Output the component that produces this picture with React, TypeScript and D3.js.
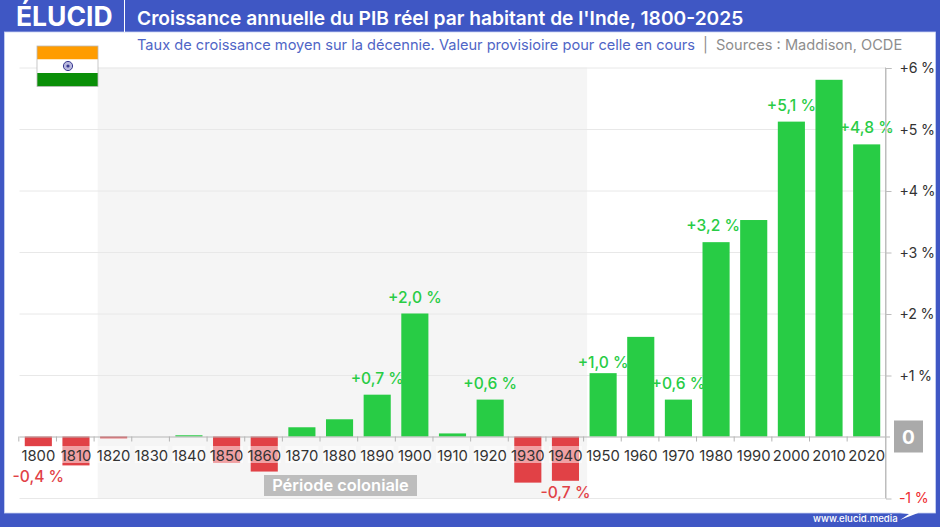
import React, { useEffect, useRef } from 'react';
import * as d3 from 'd3';

const years = [1800, 1810, 1820, 1830, 1840, 1850, 1860, 1870, 1880, 1890, 1900, 1910, 1920, 1930, 1940, 1950, 1960, 1970, 1980, 1990, 2000, 2010, 2020];
const growth = [-0.16, -0.47, -0.03, 0, 0.02, -0.43, -0.57, 0.15, 0.28, 0.68, 2.0, 0.05, 0.6, -0.75, -0.72, 1.03, 1.62, 0.6, 3.16, 3.52, 5.12, 5.8, 4.75];
const labelYears = [1800, 1890, 1900, 1920, 1940, 1950, 1970, 1980, 2000, 2020];
const labelTexts = ['-0,4 %', '+0,7 %', '+2,0 %', '+0,6 %', '-0,7 %', '+1,0 %', '+0,6 %', '+3,2 %', '+5,1 %', '+4,8 %'];
const yTicks = [6, 5, 4, 3, 2, 1];

const FONT = 'Inter, Lato, sans-serif';
const BLUE = '#3f57c4';
const GREEN = '#28cc45';
const RED = '#e14146';

const App: React.FC = () => {
  const svgRef = useRef<SVGSVGElement>(null);

  useEffect(() => {
    if (!svgRef.current) return;
    const svg = d3.select(svgRef.current);
    svg.selectAll('*').remove();
    svg.style('font-family', FONT);

    const x = d3.scaleBand<number>().domain(years).range([19.5, 885.5]).paddingInner(0.28).paddingOuter(0.14);
    const y = d3.scaleLinear().domain([-1, 6]).range([498, 67.5]);
    const zero = y(0);

    // frame
    svg.append('rect').attr('width', 940).attr('height', 527).attr('fill', BLUE);
    svg.append('rect').attr('x', 4.5).attr('y', 32).attr('width', 931).attr('height', 481)
      .attr('fill', '#fff').attr('stroke', '#c9d3f2').attr('stroke-width', 0.8);
    svg.append('line').attr('x1', 124.5).attr('x2', 124.5).attr('y1', 0).attr('y2', 32).attr('stroke', '#fff');
    svg.append('text').attr('x', 16).attr('y', 26).attr('fill', '#fff')
      .attr('font-size', 26.5).attr('font-weight', 700).text('ÉLUCID');
    svg.append('text').attr('x', 137).attr('y', 25).attr('fill', '#fff')
      .attr('font-size', 19.2).attr('font-weight', 600).text("Croissance annuelle du PIB réel par habitant de l'Inde, 1800-2025");

    const sub = svg.append('text').attr('x', 137).attr('y', 50).attr('font-size', 14.6);
    sub.append('tspan').attr('fill', '#4f65c6').text('Taux de croissance moyen sur la décennie. Valeur provisioire pour celle en cours');
    sub.append('tspan').attr('fill', '#8d8d8d').attr('dx', 8).text('|');
    sub.append('tspan').attr('fill', '#8d8d8d').attr('dx', 8).text('Sources : Maddison, OCDE');

    // colonial period background
    svg.append('rect').attr('x', x(1820)! - 2.4).attr('y', y(6)).attr('width', x(1950)! - x(1820)!)
      .attr('height', y(-1) - y(6)).attr('fill', '#f5f5f5');

    // grid
    svg.append('g').selectAll('line').data([...yTicks, -1]).join('line')
      .attr('x1', 19.5).attr('x2', 885.5)
      .attr('y1', d => y(d) + 0.5).attr('y2', d => y(d) + 0.5)
      .attr('stroke', '#e8e8e8');

    // bars
    svg.append('g').selectAll('rect').data(years).join('rect')
      .attr('x', d => x(d)!)
      .attr('width', x.bandwidth())
      .attr('y', (_, i) => Math.min(y(growth[i]), zero))
      .attr('height', (_, i) => Math.abs(y(growth[i]) - zero))
      .attr('fill', (_, i) => (growth[i] < 0 ? RED : GREEN));

    // baseline and decade ticks
    svg.append('line').attr('x1', 19.5).attr('x2', 890).attr('y1', zero + 0.5).attr('y2', zero + 0.5).attr('stroke', '#b5b5b5');
    svg.append('g').selectAll('line').data(years).join('line')
      .attr('x1', d => x(d)! - x.bandwidth() * 0.22).attr('x2', d => x(d)! - x.bandwidth() * 0.22)
      .attr('y1', zero).attr('y2', zero + 5)
      .attr('stroke', '#b5b5b5');

    // decade labels on a translucent box
    const labels = svg.append('g').selectAll('g').data(years).join('g')
      .attr('transform', d => `translate(${x(d)! + x.bandwidth() / 2},0)`);
    labels.append('rect').attr('x', -16.5).attr('width', 33).attr('y', 446).attr('height', 17)
      .attr('fill', '#fff').attr('fill-opacity', 0.5);
    labels.append('text').attr('text-anchor', 'middle').attr('y', 460.5).attr('font-size', 14.8)
      .attr('fill', '#333').text(d => String(d));

    // value labels
    svg.append('g').selectAll('text').data(labelYears).join('text')
      .attr('x', d => x(d)! + x.bandwidth() / 2 - (d === 1980 ? 3 : 0))
      .attr('y', d => {
        const v = growth[years.indexOf(d)];
        if (v < 0) return y(v) + (d === 1800 ? 36 : 17);
        return y(v) - (d === 1950 ? 5 : 11);
      })
      .attr('text-anchor', 'middle').attr('font-size', 15.6).attr('font-weight', 500)
      .attr('fill', (_, i) => (labelTexts[i].startsWith('-') ? RED : GREEN))
      .text((_, i) => labelTexts[i]);

    // right axis
    const axis = d3.axisRight(y).tickValues(yTicks).tickSize(6).tickFormat(d => `+${d} %`);
    const axisG = svg.append('g').attr('transform', 'translate(885.5,0.5)').call(axis);
    axisG.select('.domain').attr('stroke', '#bdbdbd');
    axisG.selectAll('.tick line').attr('stroke', '#bdbdbd');
    axisG.selectAll('.tick text').attr('x', 14).attr('fill', '#333').attr('font-size', 14.2).attr('letter-spacing', -0.2).attr('font-family', FONT);
    svg.append('line').attr('x1', 885.5).attr('x2', 885.5).attr('y1', y(6)).attr('y2', y(-1)).attr('stroke', '#bdbdbd');
    svg.append('text').attr('x', 899).attr('y', y(-1) + 5).attr('font-size', 14.2).attr('letter-spacing', -0.2).attr('fill', '#ee2b2f').text('-1 %');

    // zero box
    svg.append('rect').attr('x', 894).attr('y', zero - 16).attr('width', 29).attr('height', 32).attr('fill', '#aaa');
    svg.append('text').attr('x', 908.5).attr('y', zero + 7).attr('text-anchor', 'middle')
      .attr('font-size', 19).attr('font-weight', 700).attr('fill', '#fff').text('0');

    // period tag
    svg.append('rect').attr('x', 264).attr('y', 475).attr('width', 153).attr('height', 21).attr('fill', '#bdbdbd');
    svg.append('text').attr('x', 340.5).attr('y', 491).attr('text-anchor', 'middle')
      .attr('font-size', 16.4).attr('font-weight', 600).attr('fill', '#fff').text('Période coloniale');

    // flag
    const flag = svg.append('g').attr('transform', 'translate(37,46)');
    flag.append('rect').attr('width', 61).attr('height', 13.5).attr('fill', '#ff9c00');
    flag.append('rect').attr('y', 13.5).attr('width', 61).attr('height', 13.5).attr('fill', '#fff');
    flag.append('rect').attr('y', 27).attr('width', 61).attr('height', 13.5).attr('fill', '#0a8f08');
    flag.append('rect').attr('width', 61).attr('height', 40.5).attr('fill', 'none').attr('stroke', '#bbb').attr('stroke-width', 0.8);
    flag.append('circle').attr('cx', 31).attr('cy', 20).attr('r', 4.6).attr('fill', '#b9b8de').attr('stroke', '#3a3a90').attr('stroke-width', 1);
    flag.append('circle').attr('cx', 31).attr('cy', 20).attr('r', 1.6).attr('fill', '#3a3a90');

    // footer
    svg.append('text').attr('x', 813).attr('y', 522).attr('font-size', 9.6).attr('font-weight', 500)
      .attr('fill', '#fff').text('www.elucid.media');
    svg.append('path').attr('d', 'M900,513 L918,507 L918,513 L900,520 L909,514 Z').attr('fill', '#fff');
  }, []);

  return <svg ref={svgRef} width={940} height={527} style={{ position: 'fixed', left: 0, top: 0 }} />;
};

export default App;
